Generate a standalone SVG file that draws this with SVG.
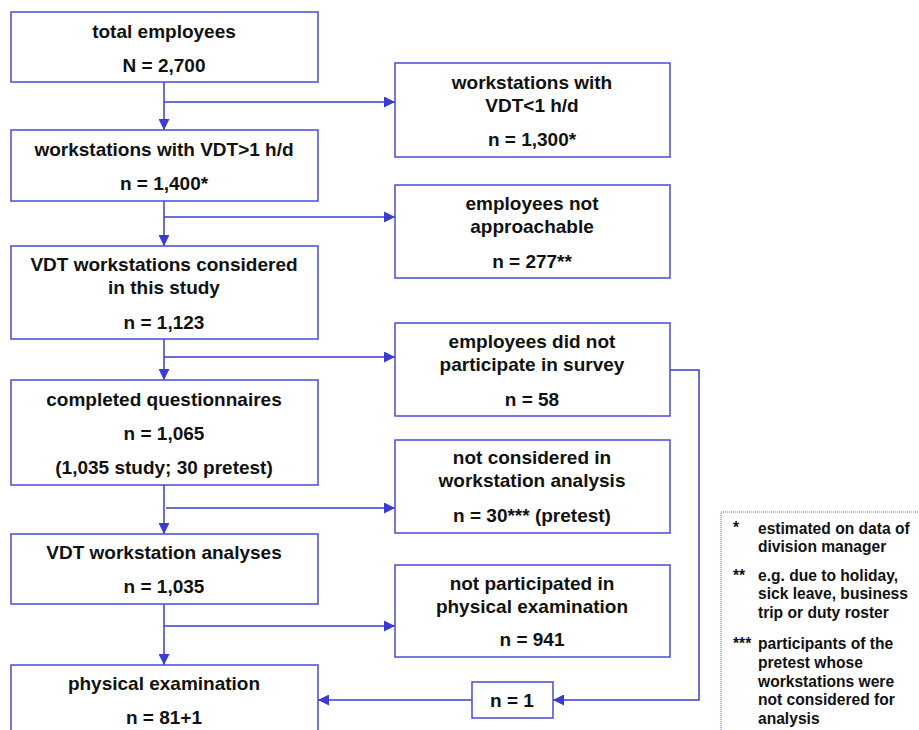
<svg xmlns="http://www.w3.org/2000/svg" width="919" height="730" viewBox="0 0 919 730">
<style>
.box{fill:#fff;stroke:#4a4ad8;stroke-width:1.5}
.ln{fill:none;stroke:#3b3bd4;stroke-width:1.5}
text{font-family:"Liberation Sans",Arial,sans-serif;font-weight:bold;fill:#111}
.t{font-size:19px;text-anchor:middle}
.lg{font-size:15.6px}
</style>
<defs>
<marker id="ah" viewBox="0 0 10 10" refX="10" refY="5" markerWidth="11" markerHeight="11" markerUnits="userSpaceOnUse" orient="auto">
<path d="M0,0 L10,5 L0,10 Z" fill="#3b3bd4"/>
</marker>
</defs>
<rect width="919" height="730" fill="#fff"/>
<g id="connectors">
<path class="ln" d="M164,82 V130" marker-end="url(#ah)"/>
<path class="ln" d="M164,102 H395" marker-end="url(#ah)"/>
<path class="ln" d="M164,201 V246" marker-end="url(#ah)"/>
<path class="ln" d="M164,217 H395" marker-end="url(#ah)"/>
<path class="ln" d="M164,339 V380" marker-end="url(#ah)"/>
<path class="ln" d="M164,357 H395" marker-end="url(#ah)"/>
<path class="ln" d="M164,485 V534" marker-end="url(#ah)"/>
<path class="ln" d="M166,508 H395" marker-end="url(#ah)"/>
<path class="ln" d="M164,604 V665" marker-end="url(#ah)"/>
<path class="ln" d="M164,626 H395" marker-end="url(#ah)"/>
<path class="ln" d="M670,370 H699 V700 H553" marker-end="url(#ah)"/>
<path class="ln" d="M472,700 H318" marker-end="url(#ah)"/>
</g>
<g id="n1"><rect class="box" x="11" y="12" width="307" height="70"/>
<text class="t" x="164" y="38">total employees</text>
<text class="t" x="164" y="72">N = 2,700</text></g>
<g id="n2"><rect class="box" x="11" y="130" width="307" height="71"/>
<text class="t" x="164" y="156">workstations with VDT&gt;1 h/d</text>
<text class="t" x="164" y="190">n = 1,400*</text></g>
<g id="n3"><rect class="box" x="11" y="246" width="307" height="93"/>
<text class="t" x="164" y="271">VDT workstations considered</text>
<text class="t" x="164" y="294">in this study</text>
<text class="t" x="164" y="329">n = 1,123</text></g>
<g id="n4"><rect class="box" x="11" y="380" width="307" height="105"/>
<text class="t" x="164" y="406">completed questionnaires</text>
<text class="t" x="164" y="440">n = 1,065</text>
<text class="t" x="164" y="474">(1,035 study; 30 pretest)</text></g>
<g id="n5"><rect class="box" x="11" y="534" width="307" height="70"/>
<text class="t" x="164" y="559">VDT workstation analyses</text>
<text class="t" x="164" y="593">n = 1,035</text></g>
<g id="n6"><rect class="box" x="11" y="665" width="307" height="80"/>
<text class="t" x="164" y="690">physical examination</text>
<text class="t" x="164" y="724">n = 81+1</text></g>
<g id="r1"><rect class="box" x="395" y="63" width="275" height="94"/>
<text class="t" x="532" y="89">workstations with</text>
<text class="t" x="532" y="112">VDT&lt;1 h/d</text>
<text class="t" x="532" y="146">n = 1,300*</text></g>
<g id="r2"><rect class="box" x="395" y="185" width="275" height="93"/>
<text class="t" x="532" y="210">employees not</text>
<text class="t" x="532" y="233">approachable</text>
<text class="t" x="532" y="268">n = 277**</text></g>
<g id="r3"><rect class="box" x="395" y="323" width="275" height="93"/>
<text class="t" x="532" y="348">employees did not</text>
<text class="t" x="532" y="371">participate in survey</text>
<text class="t" x="532" y="406">n = 58</text></g>
<g id="r4"><rect class="box" x="395" y="440" width="275" height="93"/>
<text class="t" x="532" y="464">not considered in</text>
<text class="t" x="532" y="487">workstation analysis</text>
<text class="t" x="532" y="522">n = 30*** (pretest)</text></g>
<g id="r5"><rect class="box" x="395" y="565" width="275" height="92"/>
<text class="t" x="532" y="590">not participated in</text>
<text class="t" x="532" y="613">physical examination</text>
<text class="t" x="532" y="646">n = 941</text></g>
<g id="r6"><rect class="box" x="472" y="682" width="81" height="36"/>
<text class="t" x="512" y="707">n = 1</text></g>
<g id="legend">
<rect x="721" y="512" width="210" height="240" fill="none" stroke="#6a6ae6" stroke-width="1" stroke-dasharray="1,1"/>
<text class="lg" x="733" y="533">*</text>
<text class="lg" x="758" y="534">estimated on data of</text>
<text class="lg" x="758" y="552">division manager</text>
<text class="lg" x="733" y="581">**</text>
<text class="lg" x="758" y="581">e.g. due to holiday,</text>
<text class="lg" x="758" y="599">sick leave, business</text>
<text class="lg" x="758" y="618">trip or duty roster</text>
<text class="lg" x="733" y="649">***</text>
<text class="lg" x="758" y="649">participants of the</text>
<text class="lg" x="758" y="668">pretest whose</text>
<text class="lg" x="758" y="687">workstations were</text>
<text class="lg" x="758" y="705">not considered for</text>
<text class="lg" x="758" y="724">analysis</text>
</g>
</svg>
